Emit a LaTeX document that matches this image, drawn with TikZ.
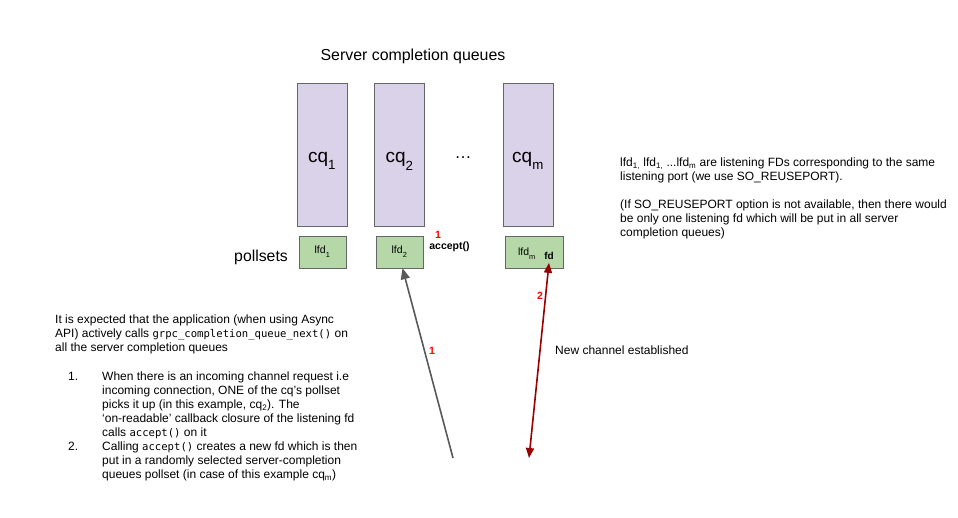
\documentclass[tikz,border=0pt]{standalone}
\usepackage{fontspec}
\setmainfont{Liberation Sans}
\setmonofont{DejaVu Sans Mono}
\usetikzlibrary{calc,arrows.meta}
\definecolor{cqfill}{HTML}{D9D2E9}
\definecolor{lfdfill}{HTML}{B6D7A8}
\definecolor{boxline}{HTML}{666666}
\definecolor{grayarrow}{HTML}{595959}
\definecolor{darkred}{HTML}{990000}
\newcommand{\dsub}[1]{\raisebox{-0.22em}{\textsubscript{#1}}}
\newcommand{\cqname}[1]{\raisebox{-8pt}[0pt][0pt]{cq\dsub{#1}}}
\newcommand{\code}[1]{{\ttfamily\fontsize{10.6}{14}\selectfont #1}}
\tikzset{
  cqbox/.style={draw=boxline,fill=cqfill,minimum width=50pt,minimum height=143pt,inner sep=0pt,font=\fontsize{19}{22}\selectfont},
  lfdbox/.style={draw=boxline,fill=lfdfill,minimum height=32pt,inner sep=0pt,font=\fontsize{10.5}{12}\selectfont},
  body/.style={align=left,anchor=north west,inner sep=0pt,font=\fontsize{12}{14}\selectfont},
  redlabel/.style={text=red,font=\bfseries\fontsize{10.5}{12}\selectfont,inner sep=1pt}
}
\begin{document}
\begin{tikzpicture}[x=1pt,y=-1pt]
			\useasboundingbox[fill=white] (0,0) rectangle (958,518);
			\node[font=\fontsize{15.9}{19}\selectfont] (title) at (413,56) {Server completion queues};
			\node[cqbox] (cq1) at (322,154.5) {\cqname{1}};
			\node[cqbox] (cq2) at (399.5,154.5) {\cqname{2}};
			\node[cqbox] (cqm) at (528,154.5) {\cqname{m}};
			\node[font=\fontsize{17}{20}\selectfont] (dots) at (463,158) {…};
			\node[lfdbox,minimum width=47pt] (lfd1) at (322.5,252) {lfd\dsub{1}};
			\node[lfdbox,minimum width=47pt] (lfd2) at (399.5,252) {lfd\dsub{2}};
			\node[lfdbox,minimum width=58pt] (lfdm) at (534,252) {};
			\node[font=\fontsize{10.5}{12}\selectfont,inner sep=0pt] (lfdmtext) at (527,254) {lfd\dsub{m}};
			\node[font=\bfseries\fontsize{10}{12}\selectfont,inner sep=0pt] (fd) at (549,256) {fd};
			\node[font=\fontsize{15.8}{18}\selectfont,anchor=east,inner sep=0pt] (pollsets) at (288,257) {pollsets};
			\node[redlabel] (one) at (438,235) {1};
			\node[font=\bfseries\fontsize{10.5}{12}\selectfont,inner sep=0pt] (accept) at (449.5,247) {accept()};
			% incoming connection and new fd
			\coordinate (g0) at (453,458);
			\coordinate (r0) at (529,458);
			\draw[grayarrow,line width=1.6pt,-{Triangle[length=11pt,width=9pt]}] (g0) -- ([xshift=3pt]lfd2.south);
			\draw[darkred,line width=1.6pt,{Triangle[length=10pt,width=8pt]}-{Triangle[length=10pt,width=8pt]}] (r0) -- ([yshift=-3pt]fd.south);
			\node[redlabel] (oneb) at (432,351) {1};
			\node[redlabel] (two) at (540,296) {2};
			\node[body,anchor=west] (newch) at (555,350) {New channel established};
			% notes
			\node[body] (note) at (620,158) {lfd\textsubscript{1,} lfd\textsubscript{1,} ...lfd\textsubscript{m} are listening FDs corresponding to the same\\listening port (we use SO\_REUSEPORT).\\[14pt](If SO\_REUSEPORT option is not available, then there would\\be only one listening fd which will be put in all server\\completion queues)};
			\node[body] (intro) at (55,315) {It is expected that the application (when using Async\\API) actively calls \code{grpc\_completion\_queue\_next()} on\\all the server completion queues};
			\node[body] (n1) at (68,372) {1.};
			\node[body] (item1) at (102,372) {When there is an incoming channel request i.e\\incoming connection, ONE of the cq's pollset\\picks it up (in this example, cq\textsubscript{2}). The\\`on-readable' callback closure of the listening fd\\calls \code{accept()} on it};
			\node[body] (n2) at (68,442) {2.};
			\node[body] (item2) at (102,442) {Calling \code{accept()} creates a new fd which is then\\put in a randomly selected server-completion\\queues pollset (in case of this example cq\textsubscript{m})};
		\end{tikzpicture}
\end{document}
